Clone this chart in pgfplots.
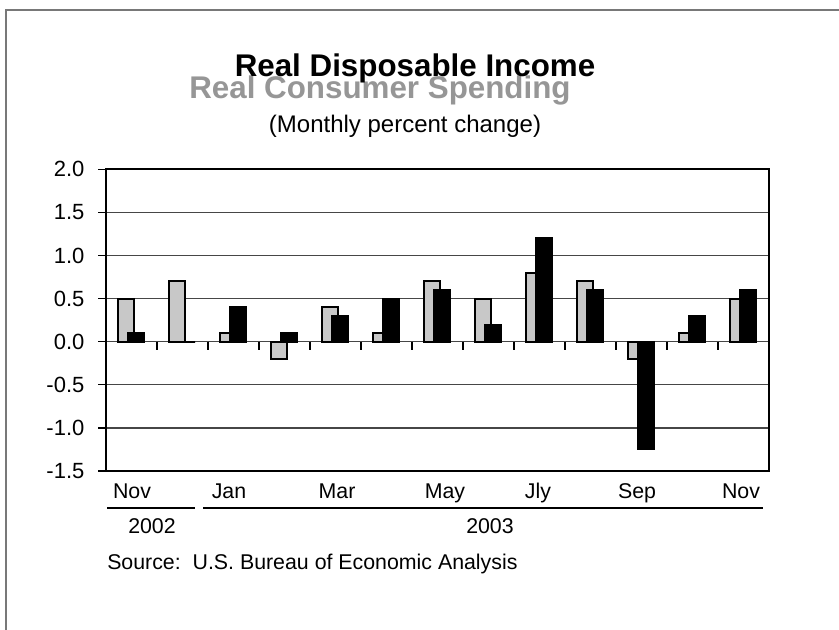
\documentclass[border=0pt]{standalone}
\usepackage{pgfplots}
\pgfplotsset{compat=1.18}
\usepackage{fontspec}
\setmainfont{Liberation Sans}
\definecolor{barg}{RGB}{200,200,200}
\definecolor{titleg}{RGB}{150,150,150}
\definecolor{frameg}{RGB}{120,120,120}
\definecolor{gridc}{RGB}{70,70,70}
\begin{document}
\begin{tikzpicture}[x=0.75pt,y=0.75pt]
\path[use as bounding box] (0,0) rectangle (839,630);
\fill[white] (0,0) rectangle (839,630);
\draw[frameg, line width=1.5pt] (6,0) -- (6,620) -- (839,620);
\begin{axis}[
  at={(79.5pt,119.25pt)}, anchor=south west,
  scale only axis, width=497.25pt, height=226.3pt,
  xmin=-0.5, xmax=12.5, ymin=-1.5, ymax=2.0,
  xtick=\empty,
  ytick={-1.5,-1,-0.5,0,0.5,1,1.5,2},
  yticklabels={-1.5,-1.0,-0.5,0.0,0.5,1.0,1.5,2.0},
  ytick pos=left,
  yticklabel style={font=\fontsize{16.5}{16}\selectfont, anchor=east, inner sep=0pt, xshift=-10pt},
  tick align=outside, major tick length=6pt,
  every tick/.style={black, line width=1pt},
  ymajorgrids, major grid style={gridc, line width=1pt},
  axis line style={black, line width=1.5pt},
  clip=false,
]
\addplot[ybar, bar width=12pt, bar shift=-4.1pt, fill=barg, draw=black, line width=1.4pt]
  coordinates {(0,0.5)(1,0.7)(2,0.1)(3,-0.2)(4,0.4)(5,0.1)(6,0.7)(7,0.5)(8,0.8)(9,0.7)(10,-0.2)(11,0.1)(12,0.5)};
\addplot[ybar, bar width=12pt, bar shift=3.4pt, fill=black, draw=black, line width=1.4pt]
  coordinates {(0,0.1)(1,0)(2,0.4)(3,0.1)(4,0.3)(5,0.5)(6,0.6)(7,0.2)(8,1.2)(9,0.6)(10,-1.25)(11,0.3)(12,0.6)};
\pgfplotsinvokeforeach{0,...,11}{\draw[black, line width=1pt] (axis cs:#1.5,0) -- ++(0pt,-6pt);}
\end{axis}
% titles
\node[anchor=base, text=titleg, font=\fontsize{23.5}{24}\selectfont\bfseries] at (380,531) {Real Consumer Spending};
\node[anchor=base, text=black, font=\fontsize{23.5}{24}\selectfont\bfseries] at (415,553) {Real Disposable Income};
\node[anchor=base, font=\fontsize{18}{18}\selectfont] at (405,497) {(Monthly percent change)};
% month labels
\foreach \xx/\mm in {132/Nov,229/Jan,337/Mar,445/May,538/Jly,637/Sep,741/Nov}
  \node[anchor=base, font=\fontsize{16}{16}\selectfont] at (\xx,131) {\mm};
\draw[black, line width=1.9pt] (107,122) -- (195,122);
\draw[black, line width=1.9pt] (203,122) -- (763,122);
\node[anchor=base, font=\fontsize{16}{16}\selectfont] at (152,96) {2002};
\node[anchor=base, font=\fontsize{16}{16}\selectfont] at (490,96) {2003};
\node[anchor=base west, inner sep=0pt, font=\fontsize{16}{16}\selectfont] at (107,60) {Source:\ \ U.S. Bureau of Economic Analysis};
\end{tikzpicture}
\end{document}
